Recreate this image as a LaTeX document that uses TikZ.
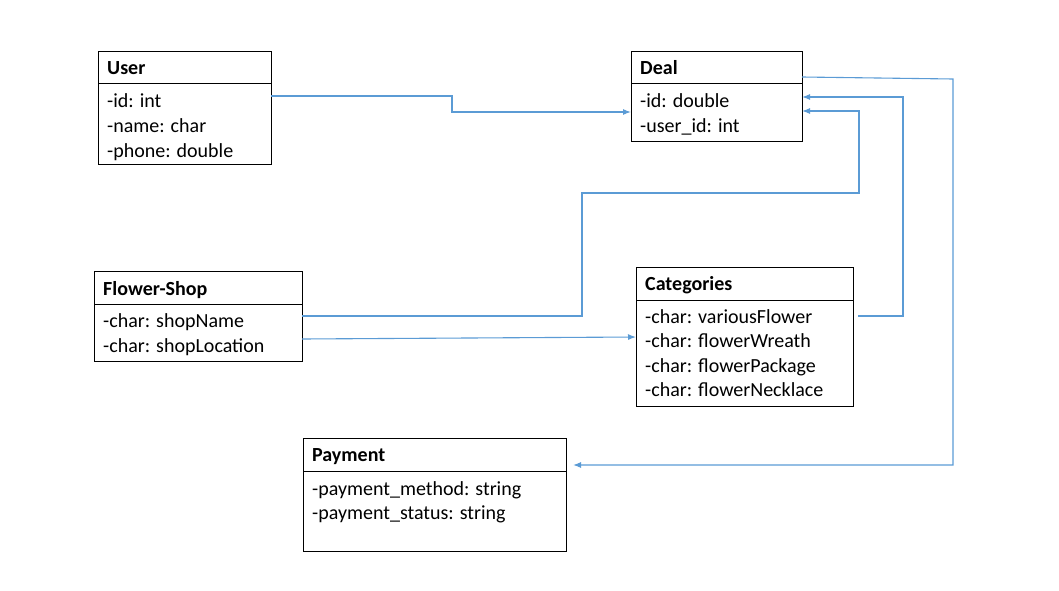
\documentclass[tikz,border=0pt]{standalone}
\usepackage{fontspec}
\setmainfont{Carlito}
\usetikzlibrary{arrows.meta}
\definecolor{lineblue}{HTML}{5B9BD5}
\begin{document}
\begin{tikzpicture}[x=1pt,y=-1pt,
  cls/.style={draw=black, line width=1pt, anchor=north west, inner sep=0pt, outer sep=0pt},
  ttl/.style={anchor=base west, inner sep=0pt, font=\fontsize{20}{24}\selectfont\bfseries},
  att/.style={anchor=base west, inner sep=0pt, font=\fontsize{20}{24}\selectfont},
  conn/.style={draw=lineblue, line width=1.1pt},
  arr/.style={conn, -{Latex[length=8pt,width=6pt]}}
]
\useasboundingbox (0,0) rectangle (1059,591);

% User
\node[cls, minimum width=173pt, minimum height=112pt] (user) at (98,52) {};
\draw[line width=1pt] (98,84) -- (271,84);
\node[ttl] (userT) at (107,75) {User};
\node[att] (user1) at (107,107) {-id: int};
\node[att] (user2) at (107,132) {-name: char};
\node[att] (user3) at (107,157) {-phone: double};

% Deal
\node[cls, minimum width=171pt, minimum height=89pt] (deal) at (631,52) {};
\draw[line width=1pt] (631,84) -- (802,84);
\node[ttl] (dealT) at (640,75) {Deal};
\node[att] (deal1) at (640,107) {-id: double};
\node[att] (deal2) at (640,132) {-user\_id: int};

% Flower-Shop
\node[cls, minimum width=208pt, minimum height=90pt] (shop) at (94,271) {};
\draw[line width=1pt] (94,304) -- (302,304);
\node[ttl] (shopT) at (103,295) {Flower-Shop};
\node[att] (shop1) at (103,327) {-char: shopName};
\node[att] (shop2) at (103,352) {-char: shopLocation};

% Categories
\node[cls, minimum width=217pt, minimum height=139pt] (cat) at (636,267) {};
\draw[line width=1pt] (636,300) -- (853,300);
\node[ttl] (catT) at (645,290) {Categories};
\node[att] (cat1) at (645,323) {-char: variousFlower};
\node[att] (cat2) at (645,347) {-char: flowerWreath};
\node[att] (cat3) at (645,372) {-char: flowerPackage};
\node[att] (cat4) at (645,396) {-char: flowerNecklace};

% Payment
\node[cls, minimum width=263pt, minimum height=113pt] (pay) at (303,438) {};
\draw[line width=1pt] (303,471) -- (566,471);
\node[ttl] (payT) at (312,461) {Payment};
\node[att] (pay1) at (312,495) {-payment\_method: string};
\node[att] (pay2) at (312,519) {-payment\_status: string};

% Connectors
\draw[arr] ([yshift=-44pt]user.north east) -| (452,104) |- ([yshift=-60pt]deal.north west);
\draw[arr, shorten >=7pt] ([yshift=-25pt]deal.north east) -- (953,79) |- ([yshift=-27pt]pay.north east);
\draw[arr] ([xshift=5pt,yshift=-49pt]cat.north east) -| (903,200) |- ([yshift=-45pt]deal.north east);
\draw[arr] ([yshift=-45pt]shop.north east) -| (582,250) |- (859,193) |- ([yshift=-59pt]deal.north east);
\draw[arr] ([yshift=-68pt]shop.north east) -- ([yshift=-70pt]cat.north west);
\end{tikzpicture}
\end{document}
